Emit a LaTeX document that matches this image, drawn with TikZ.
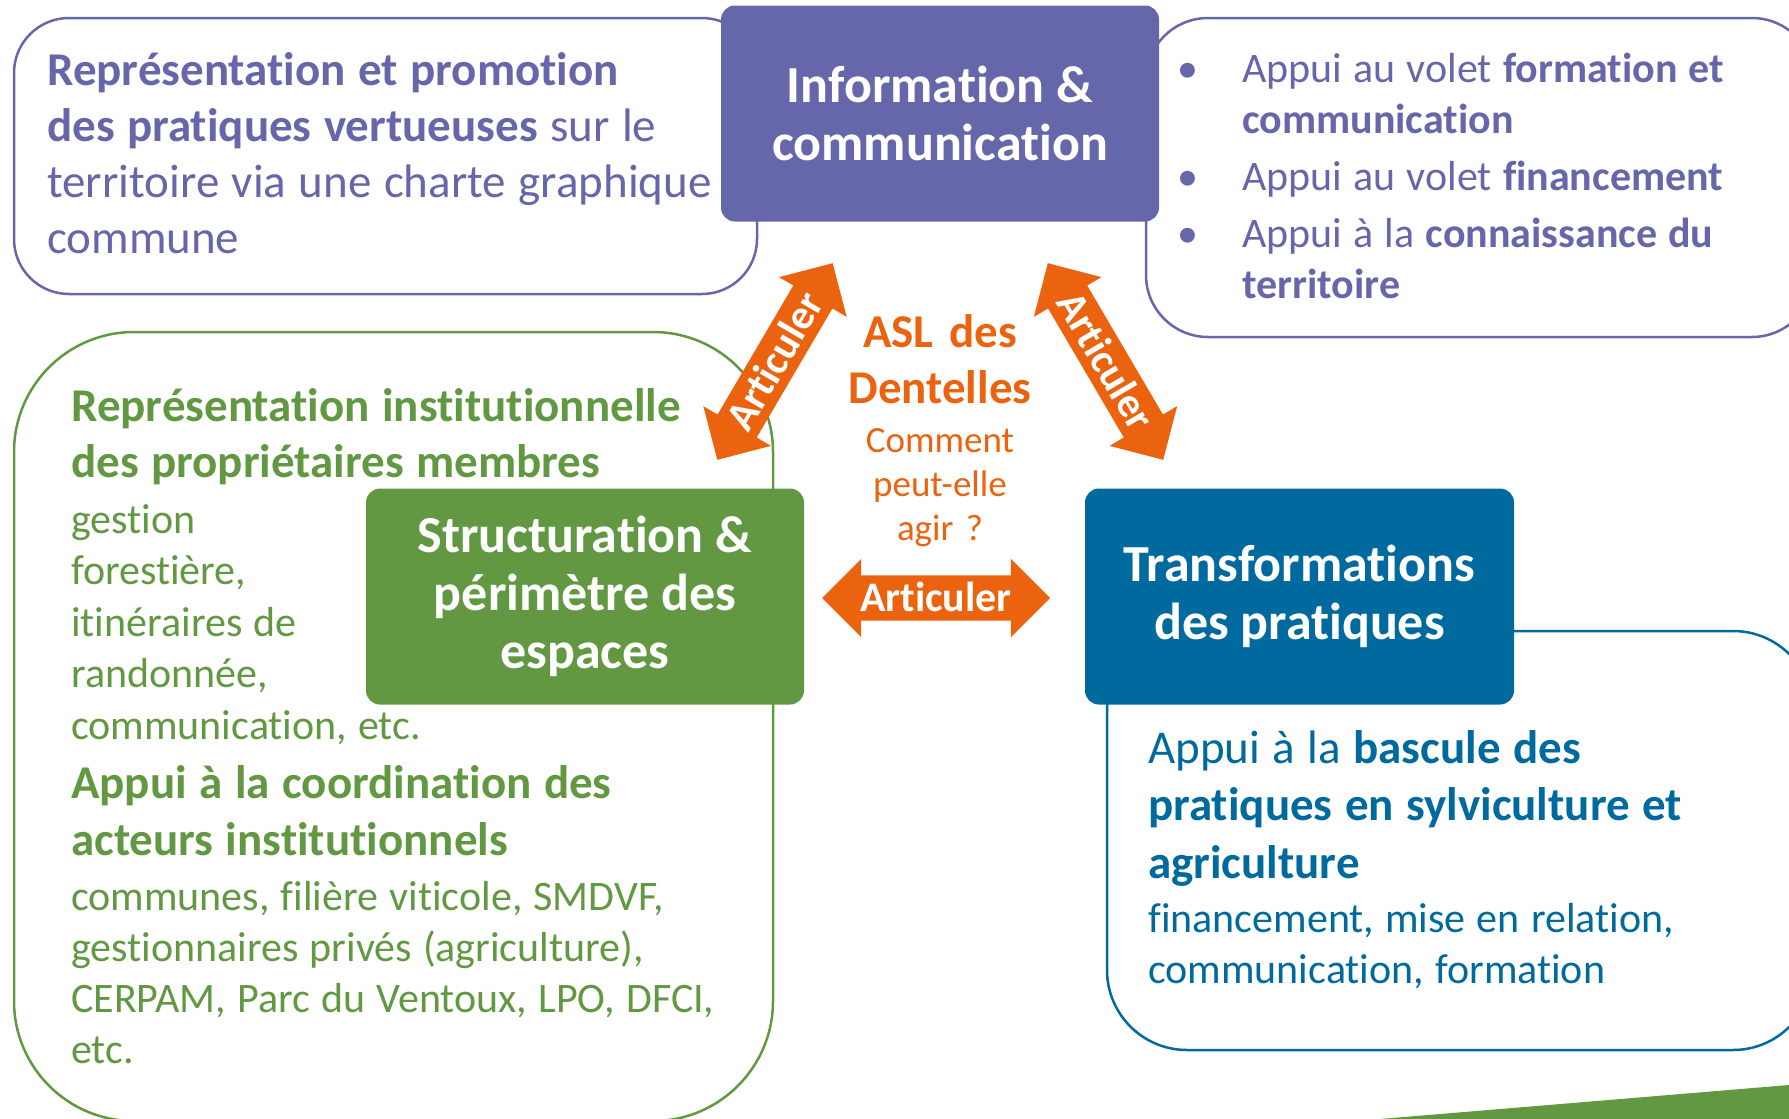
\documentclass[tikz,border=0pt]{standalone}
\usepackage{fontspec}
\setmainfont{Carlito}[Ligatures=NoCommon]
\usetikzlibrary{shapes.arrows,positioning}

\definecolor{purp}{RGB}{102,102,170}
\definecolor{leaf}{RGB}{98,152,66}
\definecolor{sea}{RGB}{0,106,158}
\definecolor{rust}{RGB}{235,99,14}

\begin{document}
\begin{tikzpicture}[x=1pt,y=-1pt,
    bigtxt/.style={font=\fontsize{47}{56}\selectfont},
    smalltxt/.style={font=\fontsize{42}{51}\selectfont},
    para/.style={anchor=base west, inner sep=0pt, text width=760pt, align=left,
        execute at begin node={\spaceskip=0.265em\relax}},
    headbox/.style={fill=#1, rounded corners=14pt, text=white, align=center,
        minimum width=438pt, minimum height=216pt, font=\bfseries\fontsize{52}{58}\selectfont},
    linkarrow/.style={double arrow, fill=rust, text=white, font=\bfseries\fontsize{42}{42}\selectfont,
        minimum height=228pt, minimum width=78pt, double arrow head extend=16.5pt,
        text height=27pt, text depth=0pt, inner ysep=9pt, inner xsep=0pt},
    frame/.style={line width=2.5pt}]
    \useasboundingbox (0,0) rectangle (1789,1119);
    \clip (0,0) rectangle (1789,1119);

    % cadres
    \draw[frame, purp, rounded corners=55pt] (14,18) rectangle (757,294);
    \draw[frame, purp, rounded corners=62pt] (1146,18) rectangle (1814,337);
    \draw[frame, leaf, rounded corners=120pt] (14,332) rectangle (773,1121);
    \draw[frame, sea, rounded corners=80pt] (1107,631) rectangle (1813,1050);
    \fill[leaf] (1380,1119) -- (1789,1085) -- (1789,1119) -- cycle;

    % pavés
    \node[headbox=purp] (info) at (940,113.5) {Information \&\\communication};
    \node[headbox=leaf] (struct) at (585,596.5) {Structuration \&\\périmètre des\\espaces};
    \node[headbox=sea, minimum width=429pt] (transf) at (1299.5,596.5) {Transformations\\des pratiques};

    % flèches
    \node[linkarrow, rotate=59.6] (artL) at (775,361.5) {Articuler};
    \node[linkarrow, rotate=-59.6] (artR) at (1105.5,361.5) {Articuler};
    \node[linkarrow] (artM) at (936,598) {Articuler};

    % textes
    \node[para, bigtxt, text=purp] (promo) at (47,85) {\textbf{Représentation et promotion}\\\textbf{des pratiques vertueuses} sur le\\territoire via une charte graphique\\commune};

    \node[para, smalltxt, text=purp] (volA) at (1242,82) {Appui au volet \textbf{formation et}\\\textbf{communication}};
    \node[para, smalltxt, text=purp] (volB) at (1242,190) {Appui au volet \textbf{financement}};
    \node[para, smalltxt, text=purp] (volC) at (1242,247) {Appui à la \textbf{connaissance du}\\\textbf{territoire}};
    \node[smalltxt, text=purp, inner sep=0pt, anchor=base] (dotA) at (1188,82) {\textbullet};
    \node[smalltxt, text=purp, inner sep=0pt, anchor=base] (dotB) at (1188,190) {\textbullet};
    \node[smalltxt, text=purp, inner sep=0pt, anchor=base] (dotC) at (1188,247) {\textbullet};

    \node[para, bigtxt, text=leaf] (instA) at (71,421) {\textbf{Représentation institutionnelle}\\\textbf{des propriétaires membres}};
    \node[para, smalltxt, text=leaf, font=\fontsize{42}{51.5}\selectfont] (instB) at (71,533) {gestion\\forestière,\\itinéraires de\\randonnée,\\communication, etc.};
    \node[para, bigtxt, text=leaf, font=\fontsize{47}{57}\selectfont] (coordA) at (71,798) {\textbf{Appui à la coordination des}\\\textbf{acteurs institutionnels}};
    \node[para, smalltxt, text=leaf] (coordB) at (71,910) {communes, filière viticole, SMDVF,\\gestionnaires privés (agriculture),\\CERPAM, Parc du Ventoux, LPO, DFCI,\\etc.};

    \node[para, bigtxt, text=sea, font=\fontsize{47}{57.5}\selectfont] (bascA) at (1148,763) {Appui à la \textbf{bascule des}\\\textbf{pratiques en sylviculture et}\\\textbf{agriculture}};
    \node[para, smalltxt, text=sea] (bascB) at (1148,932) {financement, mise en relation,\\communication, formation};

    \node[anchor=base, inner sep=0pt, text width=300pt, align=center, text=rust,
        font=\bfseries\fontsize{47}{56}\selectfont] (asl) at (940,347) {ASL des\\Dentelles};
    \node[anchor=base, inner sep=0pt, text width=300pt, align=center, text=rust,
        font=\fontsize{37}{44}\selectfont] (agir) at (940,452) {Comment\\peut-elle\\agir ?};
\end{tikzpicture}
\end{document}
